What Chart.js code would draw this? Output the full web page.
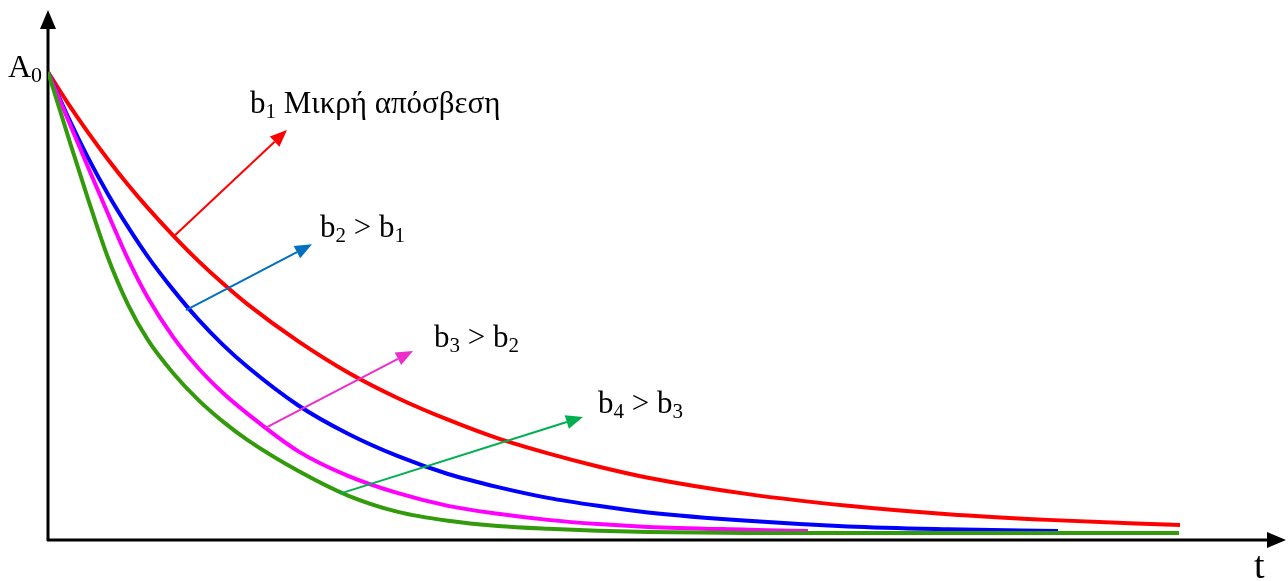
<!DOCTYPE html>
<html>
<head>
<meta charset="utf-8">
<script src="https://cdn.jsdelivr.net/npm/chart.js@4"></script>
<style>
  html, body { margin: 0; padding: 0; background: #fff; }
  #wrap { width: 1288px; height: 581px; }
</style>
</head>
<body>
<div id="wrap"><canvas id="decay"></canvas></div>
<script>
// time samples (t axis) for each curve
const tRed = [0, 0.2, 0.4, 0.6, 0.8, 1.0, 1.25, 1.5, 1.75, 2.0, 2.5, 3.0, 3.5, 4.0, 4.5, 5.0, 5.5, 6.0, 7.0, 8.0, 9.0, 10.0, 11.32];
const tBlue = [0, 0.2, 0.4, 0.6, 0.8, 1.0, 1.25, 1.5, 1.75, 2.0, 2.5, 3.0, 3.5, 4.0, 4.5, 5.0, 5.5, 6.0, 7.0, 8.0, 9.0, 10.1];
const tMagenta = [0, 0.2, 0.4, 0.6, 0.8, 1.0, 1.25, 1.5, 1.75, 2.0, 2.5, 3.0, 3.5, 4.0, 4.5, 5.0, 5.5, 6.0, 7.0, 7.6];
const tGreen = [0, 0.2, 0.4, 0.6, 0.8, 1.0, 1.25, 1.5, 1.75, 2.0, 2.5, 3.0, 3.5, 4.0, 4.5, 5.0, 5.5, 6.0, 7.0, 11.31];

// amplitude, as a fraction of A0
const ampRed = [1.000, 0.933, 0.871, 0.813, 0.759, 0.709, 0.651, 0.597, 0.548, 0.503, 0.425, 0.358, 0.303, 0.257, 0.217, 0.185, 0.157, 0.133, 0.098, 0.073, 0.055, 0.043, 0.032];
const ampBlue = [1.000, 0.904, 0.817, 0.739, 0.669, 0.605, 0.535, 0.472, 0.417, 0.369, 0.288, 0.227, 0.179, 0.141, 0.113, 0.090, 0.073, 0.059, 0.041, 0.029, 0.023, 0.019];
const ampMagenta = [1.000, 0.898, 0.797, 0.697, 0.600, 0.517, 0.434, 0.368, 0.314, 0.269, 0.190, 0.137, 0.100, 0.073, 0.056, 0.043, 0.034, 0.028, 0.022, 0.019];
const ampGreen = [1.000, 0.863, 0.729, 0.603, 0.503, 0.427, 0.357, 0.300, 0.253, 0.213, 0.148, 0.095, 0.060, 0.041, 0.030, 0.024, 0.020, 0.017, 0.015, 0.015];

// pointer arrows: [tFrom, ampFrom, tTo, ampTo]
const arrowRed = [1.27, 0.651, 2.39, 0.876];
const arrowBlue = [1.38, 0.491, 2.64, 0.632];
const arrowMagenta = [2.17, 0.239, 3.65, 0.404];
const arrowGreen = [2.92, 0.099, 5.35, 0.263];

// label positions [t, amp] and their pieces (text, subscript)
const labelB1 = [2.02, 0.912];
const labelB2 = [2.72, 0.647];
const labelB3 = [3.86, 0.412];
const labelB4 = [5.50, 0.271];
const textB1 = [['b', false], ['1', true], [' Μικρή απόσβεση', false]];
const textB2 = [['b', false], ['2', true], [' > b', false], ['1', true]];
const textB3 = [['b', false], ['3', true], [' > b', false], ['2', true]];
const textB4 = [['b', false], ['4', true], [' > b', false], ['3', true]];

const zip = (ts, ys) => ts.map((t, i) => ({ x: t, y: ys[i] }));

function curve(data, color) {
    return {
        data: data,
        borderColor: color,
        borderWidth: 4,
        pointRadius: 0,
        fill: false,
        cubicInterpolationMode: 'monotone'
    };
}

function drawArrow(ctx, x1, y1, x2, y2, color) {
    const ang = Math.atan2(y2 - y1, x2 - x1);
    const len = 17, half = 7;
    const bx = x2 - len * Math.cos(ang), by = y2 - len * Math.sin(ang);
    ctx.strokeStyle = color;
    ctx.fillStyle = color;
    ctx.lineWidth = 2;
    ctx.beginPath();
    ctx.moveTo(x1, y1);
    ctx.lineTo(bx, by);
    ctx.stroke();
    ctx.beginPath();
    ctx.moveTo(x2, y2);
    ctx.lineTo(bx + half * Math.sin(ang), by - half * Math.cos(ang));
    ctx.lineTo(bx - half * Math.sin(ang), by + half * Math.cos(ang));
    ctx.closePath();
    ctx.fill();
}

function drawPieces(ctx, x, y, pieces, size) {
    size = size || 31;
    ctx.fillStyle = '#000';
    ctx.textBaseline = 'alphabetic';
    ctx.textAlign = 'left';
    pieces.forEach(([txt, sub]) => {
        ctx.font = (sub ? Math.round(size * 0.68) : size) + 'px "Liberation Serif"';
        ctx.fillText(txt, x, sub ? y + 5 : y);
        x += ctx.measureText(txt).width;
    });
}

const decorations = {
    id: 'decorations',
    beforeDatasetsDraw(chart) {
        // axes with arrow heads
        const { ctx, chartArea } = chart;
        const x0 = chart.scales.x.getPixelForValue(0);
        const y0 = chart.scales.y.getPixelForValue(0);
        ctx.save();
        ctx.strokeStyle = '#000';
        ctx.fillStyle = '#000';
        ctx.lineWidth = 3;
        ctx.beginPath();
        ctx.moveTo(x0, y0 + 1);
        ctx.lineTo(x0, chartArea.top + 14);
        ctx.moveTo(x0 - 1, y0);
        ctx.lineTo(chartArea.right - 14, y0);
        ctx.stroke();
        ctx.beginPath();
        ctx.moveTo(x0, chartArea.top);
        ctx.lineTo(x0 - 8, chartArea.top + 19);
        ctx.lineTo(x0 + 8, chartArea.top + 19);
        ctx.closePath();
        ctx.fill();
        ctx.beginPath();
        ctx.moveTo(chartArea.right + 3, y0);
        ctx.lineTo(chartArea.right - 16, y0 - 8);
        ctx.lineTo(chartArea.right - 16, y0 + 8);
        ctx.closePath();
        ctx.fill();
        ctx.restore();
    },
    afterDatasetsDraw(chart) {
        const { ctx, chartArea } = chart;
        const sx = chart.scales.x, sy = chart.scales.y;
        const px = t => sx.getPixelForValue(t);
        const py = a => sy.getPixelForValue(a);
        ctx.save();
        [[arrowRed, '#ff0000'], [arrowBlue, '#0070c0'], [arrowMagenta, '#ec2fc8'], [arrowGreen, '#00b050']]
            .forEach(([a, c]) => drawArrow(ctx, px(a[0]), py(a[1]), px(a[2]), py(a[3]), c));
        drawPieces(ctx, px(labelB1[0]), py(labelB1[1]), textB1);
        drawPieces(ctx, px(labelB2[0]), py(labelB2[1]), textB2);
        drawPieces(ctx, px(labelB3[0]), py(labelB3[1]), textB3);
        drawPieces(ctx, px(labelB4[0]), py(labelB4[1]), textB4);
        drawPieces(ctx, px(0) - 40, py(1) + 5, [['A', false], ['0', true]], 32);
        drawPieces(ctx, chartArea.right - 29, py(0) + 38, [['t', false]], 38);
        ctx.restore();
    }
};

new Chart(document.getElementById('decay'), {
    type: 'line',
    data: {
        datasets: [
            curve(zip(tGreen, ampGreen), '#339a0c'),
            curve(zip(tMagenta, ampMagenta), '#ff00ff'),
            curve(zip(tBlue, ampBlue), '#0000ff'),
            curve(zip(tRed, ampRed), '#ff0000')
        ]
    },
    options: {
        responsive: true,
        maintainAspectRatio: false,
        animation: false,
        layout: { padding: { left: 48, right: 5, top: 10, bottom: 41 } },
        plugins: { legend: { display: false }, tooltip: { enabled: false } },
        scales: {
            x: { type: 'linear', min: 0, max: 12.35, display: false },
            y: { type: 'linear', min: 0, max: 1.1325, display: false }
        }
    },
    plugins: [decorations]
});
</script>
</body>
</html>
